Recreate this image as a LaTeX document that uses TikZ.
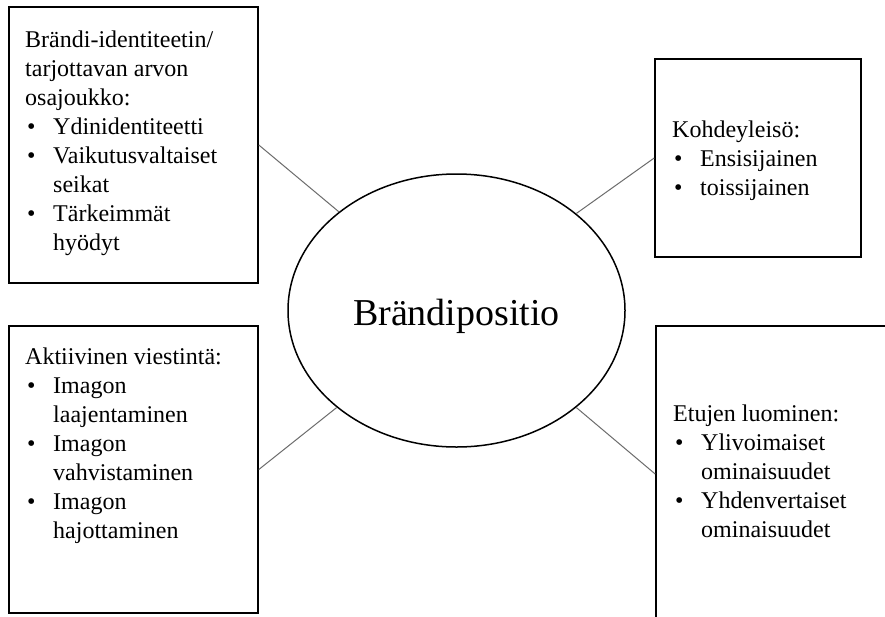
\documentclass[tikz,border=0pt]{standalone}
\usepackage{fontspec}
\setmainfont{Liberation Serif}
\usetikzlibrary{shapes.geometric}
% bullet item with a hanging indent, and its continuation line
\newcommand{\bitem}[1]{\makebox[28pt][l]{\hspace{2pt}\textbullet}#1}
\newcommand{\bcont}[1]{\hspace{28pt}#1}
\begin{document}
\begin{tikzpicture}[x=1pt,y=-1pt,
  panel/.style={draw=black, line width=1.6pt, rectangle, inner sep=0pt, fill=white},
  boxtext/.style={anchor=base west, inner sep=0pt, font=\fontsize{24}{29}\selectfont},
  link/.style={draw=gray!85!black, line width=1pt}]
\useasboundingbox (0,0) rectangle (885,616);
\clip (0,0) rectangle (885,616);
\fill[white] (0,0) rectangle (885,616);

% four surrounding boxes
\node[panel, minimum width=249pt, minimum height=276pt] (tl) at (133.5,145) {};
\node[panel, minimum width=206pt, minimum height=198pt] (tr) at (758,158) {};
\node[panel, minimum width=249pt, minimum height=287pt] (bl) at (133.5,469.5) {};
\node[panel, minimum width=244pt, minimum height=296pt] (br) at (778,474) {};

% central ellipse
\node[draw=black, ellipse, line width=1.5pt, minimum width=337pt, minimum height=273pt,
      inner sep=0pt, font=\fontsize{38}{44}\selectfont, text height=37pt, text depth=8pt]
      (pos) at (456.5,310.5) {Brändipositio};

% connectors
\draw[link] (tl.east) -- (pos.140);
\draw[link] (tr.west) -- (pos.39);
\draw[link] (bl.east) -- (pos.219);
\draw[link] (br.west) -- (pos.321);

% box texts
\node[boxtext] (tltext) at (25,47) {\begin{tabular}[t]{@{}l@{}}
Brändi-identiteetin/\\
tarjottavan arvon\\
osajoukko:\\
\bitem{Ydinidentiteetti}\\
\bitem{Vaikutusvaltaiset}\\
\bcont{seikat}\\
\bitem{Tärkeimmät}\\
\bcont{hyödyt}
\end{tabular}};

\node[boxtext] (trtext) at (672,137) {\begin{tabular}[t]{@{}l@{}}
Kohdeyleisö:\\
\bitem{Ensisijainen}\\
\bitem{toissijainen}
\end{tabular}};

\node[boxtext] (bltext) at (25,364) {\begin{tabular}[t]{@{}l@{}}
Aktiivinen viestintä:\\
\bitem{Imagon}\\
\bcont{laajentaminen}\\
\bitem{Imagon}\\
\bcont{vahvistaminen}\\
\bitem{Imagon}\\
\bcont{hajottaminen}
\end{tabular}};

\node[boxtext] (brtext) at (673,421) {\begin{tabular}[t]{@{}l@{}}
Etujen luominen:\\
\bitem{Ylivoimaiset}\\
\bcont{ominaisuudet}\\
\bitem{Yhdenvertaiset}\\
\bcont{ominaisuudet}
\end{tabular}};
\end{tikzpicture}
\end{document}
